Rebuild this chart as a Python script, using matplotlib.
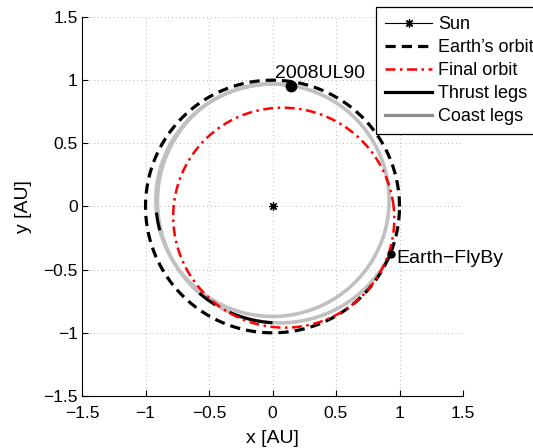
import matplotlib.pyplot as plt
import numpy as np

plt.rcParams['font.family'] = ['Liberation Sans', 'DejaVu Sans']

# orbits as conic sections around the Sun: semi-major axis [AU], eccentricity, perihelion angle [deg]
earth_a, earth_e, earth_w = 1.0, 0.0, 0.0
final_a, final_e, final_w = 0.875, 0.143, 135.0

# transfer legs (each a Keplerian arc), polar angle range in degrees
leg_a = [0.92, 0.9654]
leg_e = [0.054, 0.0747]
leg_w = [270.0, 215.6]
leg_from = [81.0, 488.0]
leg_to = [488.0, 698.0]

# thrust arcs, drawn on top of the legs they belong to
thrust_leg = [0, 1, 1]
thrust_from = [183.0, 590.0, 608.0]
thrust_to = [192.0, 600.0, 630.0]

# bodies / events
ast_name, ast_x, ast_y = '2008UL90', 0.148, 0.952
fb_name, fb_x, fb_y = 'Earth\u2212FlyBy', 0.932, -0.376

ticks = [-1.5, -1, -0.5, 0, 0.5, 1, 1.5]
tick_labels = ['\u22121.5', '\u22121', '\u22120.5', '0', '0.5', '1', '1.5']


def conic(a, e, w, th_from, th_to):
    th = np.radians(np.linspace(th_from, th_to, 400))
    r = a * (1 - e**2) / (1 + e * np.cos(th - np.radians(w)))
    return r * np.cos(th), r * np.sin(th)


fig = plt.figure(figsize=(5.33, 4.48), dpi=100)
ax = fig.add_axes([82 / 533, 52 / 448, 381 / 533, 379 / 448])

gray = '#c0c0c0'
for i in range(len(leg_a)):
    x, y = conic(leg_a[i], leg_e[i], leg_w[i], leg_from[i], leg_to[i])
    ax.plot(x, y, color=gray, lw=2.6, solid_capstyle='butt', zorder=2)

for i in range(len(thrust_leg)):
    k = thrust_leg[i]
    x, y = conic(leg_a[k], leg_e[k], leg_w[k], thrust_from[i], thrust_to[i])
    ax.plot(x, y, color='black', lw=2.2, solid_capstyle='butt', zorder=3)

earth_dash = (3.2, 1.9)
final_dash = (4, 1.8, 1, 1.8)

x, y = conic(earth_a, earth_e, earth_w, 0, 360)
ax.plot(x, y, color='black', lw=2.3, dashes=earth_dash, zorder=4)

x, y = conic(final_a, final_e, final_w, 0, 360)
ax.plot(x, y, color='red', lw=1.8, dashes=final_dash, zorder=4)

sun_marker = (8, 2, 0)
ax.plot([0], [0], marker=sun_marker, color='black', ms=6, mew=0.9, lw=0.8, zorder=5)

ax.plot(ast_x, ast_y, 'o', color='black', ms=7.5, zorder=6)
ax.text(0.02, 1.015, ast_name, fontsize=14, ha='left', va='baseline')
ax.plot(fb_x, fb_y, 'o', color='black', ms=5, zorder=6)
ax.text(0.975, -0.415, fb_name, fontsize=14, ha='left', va='center')

# legend proxies
h_sun, = ax.plot([], [], color='black', lw=0.8, marker=sun_marker, ms=6, mew=0.9)
h_earth, = ax.plot([], [], color='black', lw=2.3, dashes=earth_dash)
h_final, = ax.plot([], [], color='red', lw=1.8, dashes=final_dash)
h_thrust, = ax.plot([], [], color='black', lw=2.3)
h_coast, = ax.plot([], [], color='#8c8c8c', lw=2.3)
leg = fig.legend([h_sun, h_earth, h_final, h_thrust, h_coast],
                 ['Sun', "Earth\u2019s orbit", 'Final orbit', 'Thrust legs', 'Coast legs'],
                 loc='upper left', bbox_to_anchor=(376 / 533, 1 - 7 / 448),
                 fontsize=13, handlelength=2.6, handletextpad=0.35, labelspacing=0.33,
                 borderpad=0.5, borderaxespad=0, fancybox=False, framealpha=1,
                 edgecolor='black')
leg.get_frame().set_linewidth(0.9)

ax.set_xlim(-1.5, 1.5)
ax.set_ylim(-1.5, 1.5)
ax.set_xticks(ticks)
ax.set_yticks(ticks)
ax.set_xticklabels(tick_labels)
ax.set_yticklabels(tick_labels)
ax.tick_params(direction='in', length=4, labelsize=12.5)
ax.tick_params(axis='x', pad=7)
ax.tick_params(axis='y', pad=3)
ax.grid(True, linestyle=(0, (1, 3)), color='#b8b8b8', lw=0.7)
ax.spines['top'].set_visible(False)
ax.spines['right'].set_visible(False)
ax.set_xlabel('x [AU]', fontsize=14, labelpad=7)
ax.set_ylabel('y [AU]', fontsize=14, labelpad=8)

fig.savefig('out.png', dpi=100)
